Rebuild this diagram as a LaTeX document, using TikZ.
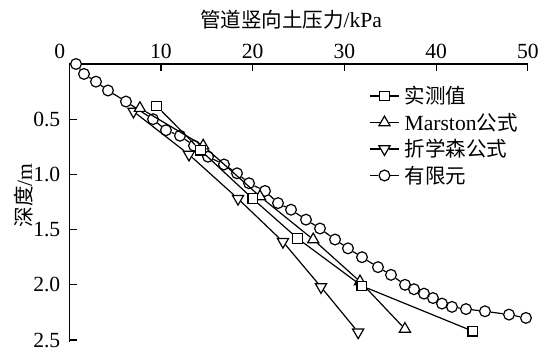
\documentclass[tikz,border=0pt]{standalone}
\usepackage{fontspec}
\setmainfont{Liberation Serif}
\newfontfamily\cjk[Scale=0.95]{Noto Sans CJK SC}
\usetikzlibrary{shapes.geometric}

\begin{document}
\begin{tikzpicture}[x=4.585pt, y=-55.2pt, line width=0.6pt,
  font=\fontsize{10.8}{12}\selectfont,
  mk/.style={draw, fill=white, inner sep=0pt},
  sq/.style={mk, rectangle, minimum size=4.8pt},
  tup/.style={mk, regular polygon, regular polygon sides=3, minimum size=6.4pt},
  tdn/.style={tup, shape border rotate=180},
  ci/.style={mk, circle, minimum size=5.4pt},
  lab/.style={inner sep=0pt}]
\useasboundingbox (-7.557,-0.5797) rectangle (52.53,2.6087);
% axes
\coordinate (O) at (0,0);
\coordinate (xe) at (50,0);
\coordinate (ye) at (0,2.515);
\draw[](xe) -- (O) -- (ye);
\foreach \x in {10,20,30,40,50}{
  \draw (\x,0) -- ++(0,0.063);
  \node[anchor=base, yshift=2.85pt] (xt\x) at (\x,0) {\x};
}
\node[anchor=base, yshift=2.85pt] (xt0) at (-1.05,0) {0};
\foreach \y in {0.5,1.0,1.5,2.0,2.5}{
  \draw (0,\y) -- ++(0.87,0);
  \node[lab, anchor=base east, xshift=-4.2pt, yshift=-3.6pt] at (0,\y) {\y};
}
\node (xlab) at (24.18,-0.405) {{\cjk 管道竖向土压力}/kPa};
\node[rotate=90] (ylab) at (-4.94,1.19) {{\cjk 深度}/m};
% FEM
\node[ci] (fem1) at (0.73,0.0){};
\node[ci] (fem2) at (1.60,0.09){};
\node[ci] (fem3) at (2.91,0.16){};
\node[ci] (fem4) at (4.22,0.24){};
\node[ci] (fem5) at (6.18,0.34){};
\node[ci] (fem6) at (9.13,0.50){};
\node[ci] (fem7) at (10.54,0.60){};
\node[ci] (fem8) at (12.07,0.65){};
\node[ci] (fem9) at (13.60,0.74){};
\node[ci] (fem10) at (15.13,0.84){};
\node[ci] (fem11) at (16.87,0.91){};
\node[ci] (fem12) at (18.29,0.99){};
\node[ci] (fem13) at (19.60,1.08){};
\node[ci] (fem14) at (21.34,1.15){};
\node[ci] (fem15) at (22.76,1.26){};
\node[ci] (fem16) at (24.18,1.32){};
\node[ci] (fem17) at (25.81,1.41){};
\node[ci] (fem18) at (27.34,1.49){};
\node[ci] (fem19) at (28.98,1.59){};
\node[ci] (fem20) at (30.39,1.67){};
\node[ci] (fem21) at (31.92,1.75){};
\node[ci] (fem22) at (33.66,1.84){};
\node[ci] (fem23) at (35.08,1.91){};
\node[ci] (fem24) at (36.61,2.00){};
\node[ci] (fem25) at (37.59,2.04){};
\node[ci] (fem26) at (38.68,2.08){};
\node[ci] (fem27) at (39.66,2.12){};
\node[ci] (fem28) at (40.64,2.17){};
\node[ci] (fem29) at (41.73,2.20){};
\node[ci] (fem30) at (43.26,2.22){};
\node[ci] (fem31) at (45.33,2.24){};
\node[ci] (fem32) at (47.95,2.27){};
\node[ci] (fem33) at (49.80,2.30){};
\draw[](fem1) -- (fem2);
\draw[](fem2) -- (fem3);
\draw[](fem3) -- (fem4);
\draw[](fem4) -- (fem5);
\draw[](fem5) -- (fem6);
\draw[](fem6) -- (fem7);
\draw[](fem7) -- (fem8);
\draw[](fem8) -- (fem9);
\draw[](fem9) -- (fem10);
\draw[](fem10) -- (fem11);
\draw[](fem11) -- (fem12);
\draw[](fem12) -- (fem13);
\draw[](fem13) -- (fem14);
\draw[](fem14) -- (fem15);
\draw[](fem15) -- (fem16);
\draw[](fem16) -- (fem17);
\draw[](fem17) -- (fem18);
\draw[](fem18) -- (fem19);
\draw[](fem19) -- (fem20);
\draw[](fem20) -- (fem21);
\draw[](fem21) -- (fem22);
\draw[](fem22) -- (fem23);
\draw[](fem23) -- (fem24);
\draw[](fem24) -- (fem25);
\draw[](fem25) -- (fem26);
\draw[](fem26) -- (fem27);
\draw[](fem27) -- (fem28);
\draw[](fem28) -- (fem29);
\draw[](fem29) -- (fem30);
\draw[](fem30) -- (fem31);
\draw[](fem31) -- (fem32);
\draw[](fem32) -- (fem33);
% zhe xue sen
\node[tdn] (zxs1) at (7.0,0.43){};
\node[tdn] (zxs2) at (13.05,0.82){};
\node[tdn] (zxs3) at (18.4,1.22){};
\node[tdn] (zxs4) at (23.3,1.61){};
\node[tdn] (zxs5) at (27.45,2.02){};
\node[tdn] (zxs6) at (31.5,2.43){};
\draw[](zxs1) -- (zxs2);
\draw[](zxs2) -- (zxs3);
\draw[](zxs3) -- (zxs4);
\draw[](zxs4) -- (zxs5);
\draw[](zxs5) -- (zxs6);
% Marston
\node[tup] (mar1) at (7.7,0.40){};
\node[tup] (mar2) at (14.6,0.74){};
\node[tup] (mar3) at (20.8,1.20){};
\node[tup] (mar4) at (26.6,1.59){};
\node[tup] (mar5) at (31.7,1.97){};
\node[tup] (mar6) at (36.6,2.40){};
\draw[](mar1) -- (mar2);
\draw[](mar2) -- (mar3);
\draw[](mar3) -- (mar4);
\draw[](mar4) -- (mar5);
\draw[](mar5) -- (mar6);
% measured
\node[sq] (mea1) at (9.5,0.38){};
\node[sq] (mea2) at (14.3,0.78){};
\node[sq] (mea3) at (20.0,1.22){};
\node[sq] (mea4) at (24.9,1.58){};
\node[sq] (mea5) at (31.9,2.01){};
\node[sq] (mea6) at (44.0,2.42){};
\draw[](mea1) -- (mea2);
\draw[](mea2) -- (mea3);
\draw[](mea3) -- (mea4);
\draw[](mea4) -- (mea5);
\draw[](mea5) -- (mea6);
% legend
\coordinate (lg1a) at (32.79,0.29);
\coordinate (lg1b) at (35.95,0.29);
\node[sq] (lg1) at (34.37,0.29){};
\draw[](lg1a) -- (lg1);
\draw[](lg1) -- (lg1b);
\node[lab, anchor=west] (lt1) at (36.5,0.29){\cjk 实测值};
\coordinate (lg2a) at (32.79,0.53);
\coordinate (lg2b) at (35.95,0.53);
\node[tup] (lg2) at (34.37,0.53){};
\draw[](lg2a) -- (lg2);
\draw[](lg2) -- (lg2b);
\node[lab, anchor=west] (lt2) at (36.5,0.53){Marston{\cjk 公式}};
\coordinate (lg3a) at (32.79,0.77);
\coordinate (lg3b) at (35.95,0.77);
\node[tdn] (lg3) at (34.37,0.77){};
\draw[](lg3a) -- (lg3);
\draw[](lg3) -- (lg3b);
\node[lab, anchor=west] (lt3) at (36.5,0.77){\cjk 折学森公式};
\coordinate (lg4a) at (32.79,1.01);
\coordinate (lg4b) at (35.95,1.01);
\node[ci] (lg4) at (34.37,1.01){};
\draw[](lg4a) -- (lg4);
\draw[](lg4) -- (lg4b);
\node[lab, anchor=west] (lt4) at (36.5,1.01){\cjk 有限元};
\end{tikzpicture}
\end{document}
